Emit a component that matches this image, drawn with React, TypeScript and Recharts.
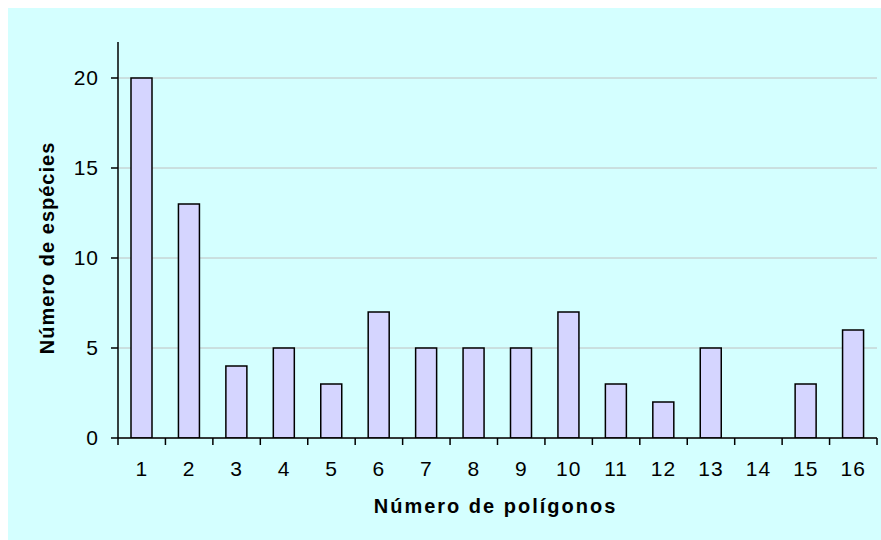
import React from 'react';
import { BarChart, Bar, XAxis, YAxis, CartesianGrid } from 'recharts';

const polygons = [1, 2, 3, 4, 5, 6, 7, 8, 9, 10, 11, 12, 13, 14, 15, 16];
const speciesCount = [20, 13, 4, 5, 3, 7, 5, 5, 5, 7, 3, 2, 5, 0, 3, 6];
const yTicks = [0, 5, 10, 15, 20];
// boundaries between categories, where the x-axis tick marks sit
const boundaryTicks = [0.5, 1.5, 2.5, 3.5, 4.5, 5.5, 6.5, 7.5, 8.5, 9.5, 10.5, 11.5, 12.5, 13.5, 14.5, 15.5, 16.5];

const data = polygons.map((p, i) => ({ n: p, v: speciesCount[i] }));

const tickStyle = { fill: '#000', fontSize: 21, fontFamily: '"Liberation Sans", Arial, sans-serif', letterSpacing: 1 };
const titleFont = '"Liberation Sans", Arial, sans-serif';

const YTitle = ({ viewBox }: any) => {
  const cx = viewBox.x + 39;
  const cy = viewBox.y + viewBox.height / 2 + 8;
  return (
    <text
      x={cx}
      y={cy}
      transform={`rotate(-90 ${cx} ${cy})`}
      textAnchor="middle"
      dominantBaseline="central"
      fontFamily={titleFont}
      fontWeight="bold"
      fontSize={20}
      letterSpacing={1}
      fill="#000"
    >
      Número de espécies
    </text>
  );
};

const XTitle = ({ viewBox }: any) => {
  const cx = viewBox.x + viewBox.width / 2 - 2;
  return (
    <text
      x={cx}
      y={505}
      textAnchor="middle"
      fontFamily={titleFont}
      fontWeight="bold"
      fontSize={20}
      letterSpacing={2}
      fill="#000"
    >
      Número de polígonos
    </text>
  );
};

export default function App() {
  return (
    <div style={{ width: 881, height: 540, background: '#fff', overflow: 'hidden' }}>
      <style>{'body{margin:0}'}</style>
      <div style={{ marginLeft: 8, marginTop: 8, width: 873, height: 532, background: '#D4FFFF' }}>
        <BarChart
          width={873}
          height={532}
          data={data}
          margin={{ top: 34, right: 4, bottom: 0, left: 0 }}
        >
          <CartesianGrid stroke="#C0C0C0" vertical={false} horizontalValues={yTicks} />
          <XAxis
            xAxisId="a"
            type="number"
            dataKey="n"
            domain={[0.5, 16.5]}
            ticks={boundaryTicks}
            interval={0}
            tick={() => <g />}
            tickSize={7}
            height={1}
            axisLine={{ stroke: '#000', strokeWidth: 1.5 }}
            tickLine={{ stroke: '#000', strokeWidth: 1.5 }}
            allowDataOverflow
          />
          <XAxis
            xAxisId="b"
            type="number"
            dataKey="n"
            domain={[0.5, 16.5]}
            ticks={polygons}
            interval={0}
            tick={tickStyle}
            tickSize={0}
            tickMargin={22}
            height={101}
            axisLine={false}
            tickLine={false}
            label={<XTitle />}
            allowDataOverflow
          />
          <YAxis
            type="number"
            domain={[0, 22]}
            ticks={yTicks}
            interval={0}
            width={110}
            tick={tickStyle}
            tickSize={7}
            tickMargin={12}
            axisLine={{ stroke: '#000', strokeWidth: 1.5 }}
            tickLine={{ stroke: '#000', strokeWidth: 1.5 }}
            label={<YTitle />}
            allowDataOverflow
          />
          <Bar
            xAxisId="a"
            dataKey="v"
            barSize={21}
            fill="#D5D5FF"
            stroke="#000"
            strokeWidth={1.5}
            isAnimationActive={false}
          />
        </BarChart>
      </div>
    </div>
  );
}
